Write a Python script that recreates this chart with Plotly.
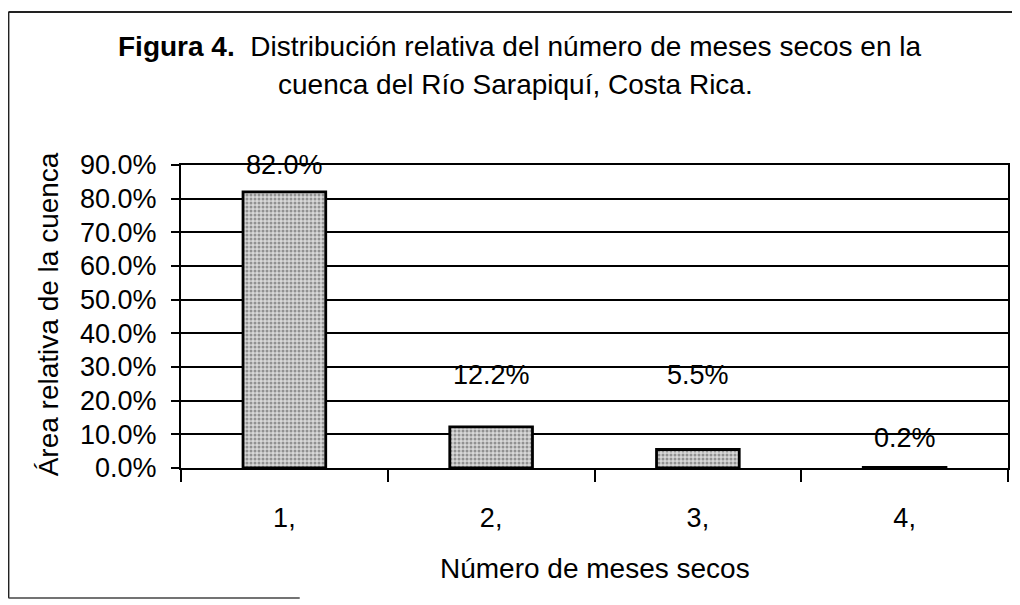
import plotly.graph_objects as go

# ---- data ----
categories = ["1,", "2,", "3,", "4,"]
values = [82.0, 12.2, 5.5, 0.2]
value_labels = ["82.0%", "12.2%", "5.5%", "0.2%"]
y_ticks = [0, 10, 20, 30, 40, 50, 60, 70, 80, 90]
y_tick_text = ["0.0%", "10.0%", "20.0%", "30.0%", "40.0%", "50.0%", "60.0%", "70.0%", "80.0%", "90.0%"]

title_line1 = "<b>Figura 4.</b>  Distribución relativa del número de meses secos en la"
title_line2 = "cuenca del Río Sarapiquí, Costa Rica."
x_title = "Número de meses secos"
y_title = "Área relativa de la cuenca"

# ---- layout geometry (page pixels; the page body adds an 8px offset) ----
OFF = 8
W, H = 1020 - OFF, 605 - OFF
L, R, T, B = 181, 1010, 165, 468  # plot area in page pixels

def px(x):
    return (x - L) / (R - L)

def py(y):
    return (B - y) / (B - T)

# label heights (in axis units) as placed in the original
label_y = [90, 27.5, 27.5, 8.8]

FONT = "Liberation Sans, Arial, sans-serif"
FS = 27

fig = go.Figure()
fig.add_trace(go.Bar(
    x=categories,
    y=values,
    width=0.4,
    marker=dict(
        color="#c8c8c8",
        line=dict(color="black", width=2.8),
        pattern=dict(shape=".", fgcolor="#4a4a4a", bgcolor="#d8d8d8", size=4, solidity=0.45),
    ),
    hoverinfo="skip",
))

annotations = []
for c, txt, ly in zip(categories, value_labels, label_y):
    annotations.append(dict(x=c, y=ly, xref="x", yref="y", text=txt, showarrow=False,
                            font=dict(family=FONT, size=FS, color="black"),
                            xanchor="center", yanchor="middle"))

annotations.append(dict(x=px(520), y=py(46), xref="paper", yref="paper", text=title_line1,
                        showarrow=False, font=dict(family=FONT, size=28, color="black"),
                        xanchor="center", yanchor="middle"))
annotations.append(dict(x=px(516), y=py(84), xref="paper", yref="paper", text=title_line2,
                        showarrow=False, font=dict(family=FONT, size=28, color="black"),
                        xanchor="center", yanchor="middle"))
annotations.append(dict(x=px(596), y=py(568), xref="paper", yref="paper", text=x_title,
                        showarrow=False, font=dict(family=FONT, size=28, color="black"),
                        xanchor="center", yanchor="middle"))
annotations.append(dict(x=px(48), y=py(314), xref="paper", yref="paper", text=y_title,
                        showarrow=False, textangle=-90, font=dict(family=FONT, size=28, color="black"),
                        xanchor="center", yanchor="middle"))

shapes = [
    dict(type="line", xref="paper", yref="paper", x0=px(8), x1=px(1030), y0=py(12), y1=py(12),
         line=dict(color="#222", width=2)),
    dict(type="line", xref="paper", yref="paper", x0=px(8), x1=px(8), y0=py(12), y1=py(598),
         line=dict(color="#222", width=2)),
    dict(type="line", xref="paper", yref="paper", x0=px(8), x1=px(300), y0=py(598), y1=py(598),
         line=dict(color="#444", width=1.5)),
]

fig.update_layout(
    width=W, height=H,
    margin=dict(l=L - OFF, r=(W + OFF) - R, t=T - OFF, b=(H + OFF) - B, pad=0),
    paper_bgcolor="white", plot_bgcolor="white",
    showlegend=False,
    annotations=annotations,
    shapes=shapes,
    font=dict(family=FONT, color="black"),
)
fig.update_xaxes(
    type="category", range=[-0.5, 3.5],
    tickson="boundaries", ticks="outside", ticklen=12, tickwidth=1.5, tickcolor="black",
    showline=True, linecolor="black", linewidth=2, mirror=True,
    showgrid=False, ticklabelstandoff=25,
    tickfont=dict(family=FONT, size=FS, color="black"),
)
fig.update_yaxes(
    range=[0, 90], tickvals=y_ticks, ticktext=y_tick_text,
    ticks="outside", ticklen=8, tickwidth=1.5, tickcolor="black",
    showline=True, linecolor="black", linewidth=2, mirror=True,
    showgrid=True, gridcolor="black", gridwidth=1.5, zeroline=False,
    ticklabelstandoff=9,
    tickfont=dict(family=FONT, size=FS, color="black"),
)

fig.write_html("out.html")
